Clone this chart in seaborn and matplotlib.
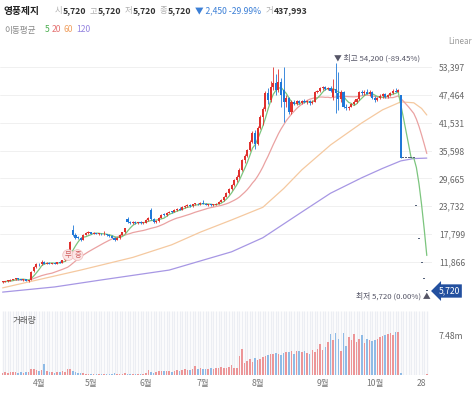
import numpy as np
import pandas as pd
import matplotlib
matplotlib.use("Agg")
import matplotlib.pyplot as plt
import seaborn as sns

# daily candles, prices in thousands of won (mid-March .. Oct 28), 164 trading days
open_ = [7.5, 7.6, 7.7, 7.8, 8.0, 8.2, 8.4, 8.1, 8.0, 8.1,
         7.8, 8.0, 9.8, 10.8, 11.4, 11.3, 11.9, 11.5, 11.7, 11.5,
         11.6, 11.5, 11.8, 11.7, 12.2, 12.7, 13.1, 18.7, 17.6, 17.0,
         16.9, 16.6, 17.6, 18.0, 18.2, 17.9, 18.0, 17.8, 17.9, 17.7,
         17.8, 17.5, 17.3, 17.0, 16.6, 16.9, 17.6, 18.2, 20.9, 20.3,
         20.2, 20.4, 20.1, 20.3, 20.1, 20.2, 20.8, 23.0, 21.0, 20.4,
         20.5, 21.3, 21.9, 21.8, 22.3, 22.6, 22.5, 22.9, 23.2, 23.0,
         23.6, 23.8, 23.9, 23.7, 24.2, 24.3, 24.1, 24.5, 24.3, 24.0,
         24.1, 23.9, 24.0, 24.3, 24.7, 25.0, 25.7, 26.5, 27.4, 28.3,
         29.3, 30.0, 31.5, 33.5, 34.5, 35.7, 37.5, 39.4, 37.0, 40.5,
         42.8, 44.5, 47.9, 46.5, 49.2, 50.0, 48.5, 50.2, 48.5, 46.0,
         46.8, 43.8, 46.0, 45.6, 46.1, 45.8, 46.2, 45.9, 46.1, 45.7,
         46.0, 48.1, 48.3, 48.9, 49.1, 48.7, 49.0, 47.0, 48.8, 47.8,
         46.6, 48.0, 44.9, 44.7, 45.0, 45.5, 46.0, 46.6, 48.0, 47.8,
         48.2, 47.7, 48.1, 46.9, 46.3, 46.8, 47.3, 47.6, 47.0, 47.5,
         47.9, 48.4, 48.2, 47.4, 34.03, 34.03, 34.03, 34.03, 34.03, 23.82,
         16.68, 11.67, 8.17, 5.72]
high = [7.7, 7.8, 7.9, 8.1, 8.3, 8.5, 8.5, 8.3, 8.2, 8.2,
        8.0, 9.9, 11.0, 11.6, 11.7, 12.2, 12.0, 11.8, 11.8, 11.7,
        11.8, 11.9, 12.0, 12.3, 12.8, 13.2, 16.3, 19.7, 18.0, 17.4,
        17.2, 17.8, 18.3, 18.4, 18.3, 18.2, 18.1, 18.0, 18.0, 18.4,
        17.9, 17.7, 17.5, 17.2, 17.1, 17.7, 18.3, 19.1, 21.5, 20.6,
        20.5, 20.5, 20.4, 20.5, 20.3, 20.9, 21.5, 23.4, 21.2, 20.7,
        21.4, 22.1, 22.2, 22.5, 22.7, 22.8, 23.1, 23.4, 23.5, 23.7,
        24.0, 24.1, 24.1, 24.3, 24.5, 24.5, 24.6, 25.0, 24.5, 24.3,
        24.2, 24.2, 24.4, 24.8, 25.2, 25.9, 26.7, 27.6, 28.5, 29.5,
        30.3, 31.8, 33.8, 34.8, 36.0, 37.9, 39.8, 39.9, 40.8, 43.2,
        45.0, 48.3, 49.0, 50.5, 53.4, 52.0, 53.0, 51.0, 53.4, 47.5,
        47.0, 46.5, 46.4, 46.3, 46.5, 46.4, 46.6, 46.4, 46.3, 46.3,
        48.4, 48.6, 49.2, 49.4, 49.3, 49.2, 49.3, 50.8, 54.2, 52.4,
        48.5, 48.3, 45.5, 45.2, 45.8, 46.3, 46.9, 48.3, 48.6, 48.5,
        48.7, 48.5, 48.4, 47.2, 47.0, 47.6, 47.9, 47.8, 47.7, 48.2,
        48.7, 49.0, 48.8, 47.4, 34.03, 34.03, 34.03, 34.03, 34.03, 23.82,
        16.68, 11.67, 8.17, 5.72]
low = [7.4, 7.5, 7.6, 7.7, 7.9, 8.0, 8.0, 7.9, 7.8, 7.7,
       7.6, 7.9, 9.6, 10.5, 11.0, 11.2, 11.4, 11.3, 11.4, 11.3,
       11.4, 11.4, 11.6, 11.6, 12.1, 12.5, 13.0, 17.3, 16.8, 16.7,
       16.3, 16.5, 17.5, 17.8, 17.8, 17.7, 17.7, 17.6, 17.6, 17.6,
       17.4, 17.2, 16.9, 16.3, 16.5, 16.8, 17.5, 18.1, 20.1, 20.0,
       20.0, 20.0, 19.9, 20.0, 19.9, 20.1, 20.6, 20.8, 20.2, 20.2,
       20.4, 21.2, 21.6, 21.7, 22.2, 22.3, 22.4, 22.8, 22.9, 22.9,
       23.4, 23.6, 23.6, 23.6, 24.0, 24.0, 24.0, 24.2, 23.9, 23.8,
       23.7, 23.7, 23.9, 24.2, 24.6, 24.9, 25.6, 26.3, 27.2, 28.1,
       29.0, 29.8, 31.3, 33.0, 34.2, 35.5, 37.3, 36.0, 36.8, 40.2,
       41.0, 44.0, 45.5, 46.0, 48.5, 47.5, 48.0, 45.0, 41.7, 45.0,
       43.5, 43.5, 45.3, 45.4, 45.5, 45.5, 45.7, 45.6, 45.4, 45.5,
       45.9, 47.8, 48.1, 48.6, 48.5, 48.5, 48.0, 46.5, 43.6, 44.3,
       46.0, 44.6, 44.3, 44.2, 44.8, 45.3, 45.8, 46.4, 47.4, 47.5,
       47.6, 47.2, 46.6, 46.0, 46.1, 46.6, 46.9, 46.8, 46.8, 47.3,
       47.7, 48.0, 48.0, 34.03, 34.03, 34.03, 34.03, 34.03, 34.03, 23.82,
       16.68, 11.67, 8.17, 5.72]
close = [7.6, 7.7, 7.8, 8.0, 8.2, 8.4, 8.1, 8.0, 8.1, 7.8,
         7.9, 9.7, 10.8, 11.4, 11.3, 11.9, 11.5, 11.7, 11.5, 11.6,
         11.5, 11.8, 11.7, 12.2, 12.7, 13.0, 16.1, 17.5, 17.0, 16.9,
         16.6, 17.6, 18.0, 18.2, 17.9, 18.0, 17.8, 17.9, 17.7, 17.8,
         17.5, 17.3, 17.0, 16.6, 16.9, 17.6, 18.2, 19.0, 20.3, 20.2,
         20.4, 20.1, 20.3, 20.1, 20.2, 20.8, 21.2, 21.0, 20.4, 20.5,
         21.3, 21.9, 21.8, 22.3, 22.6, 22.5, 22.9, 23.2, 23.0, 23.6,
         23.8, 23.9, 23.7, 24.2, 24.3, 24.1, 24.5, 24.3, 24.0, 24.1,
         23.9, 24.0, 24.3, 24.7, 25.0, 25.7, 26.5, 27.4, 28.3, 29.3,
         30.0, 31.5, 33.5, 34.5, 35.7, 37.5, 39.4, 37.0, 40.5, 42.8,
         44.5, 47.9, 46.5, 49.2, 50.0, 48.5, 50.2, 47.5, 46.0, 46.8,
         43.8, 46.0, 45.6, 46.1, 45.8, 46.2, 45.9, 46.1, 45.7, 46.0,
         48.1, 48.3, 48.9, 49.1, 48.7, 49.0, 48.3, 48.8, 47.8, 46.6,
         48.2, 44.9, 44.7, 45.0, 45.5, 46.0, 46.6, 48.0, 47.8, 48.2,
         47.7, 48.1, 46.9, 46.3, 46.8, 47.3, 47.6, 47.0, 47.5, 47.9,
         48.4, 48.2, 48.6, 34.03, 34.03, 34.03, 34.03, 34.03, 34.03, 23.82,
         16.68, 11.67, 8.17, 5.72]
# volume in millions of shares
volume = [0.4, 0.5, 0.4, 0.5, 0.6, 0.5, 0.4, 0.5, 0.4, 0.5,
          0.5, 1.2, 1.1, 1.0, 0.8, 1.0, 2.1, 0.7, 0.5, 0.6,
          0.4, 0.5, 0.6, 0.7, 0.6, 1.1, 1.2, 0.8, 0.5, 0.4,
          0.3, 0.4, 0.2, 0.15, 0.2, 0.1, 0.15, 0.1, 0.1, 0.2,
          0.15, 0.1, 0.2, 0.3, 0.2, 0.15, 0.2, 0.3, 0.2, 0.15,
          0.1, 0.15, 0.1, 0.1, 0.15, 0.3, 0.9, 0.5, 0.4, 0.6,
          0.7, 0.8, 0.7, 0.8, 0.7, 0.6, 0.8, 0.9, 0.8, 1.0,
          1.1, 1.0, 0.9, 1.2, 1.7, 1.1, 1.3, 1.2, 1.1, 1.2,
          1.3, 1.2, 1.4, 1.3, 1.5, 1.4, 1.3, 1.6, 1.9, 1.4,
          1.3, 3.6, 4.9, 2.3, 2.7, 3.0, 2.5, 3.3, 2.8, 3.0,
          3.4, 3.6, 3.8, 3.9, 4.0, 4.1, 4.0, 3.8, 4.2, 4.3,
          4.3, 4.5, 4.0, 4.6, 4.5, 4.3, 4.6, 4.2, 3.9, 4.8,
          4.4, 5.0, 5.9, 4.7, 5.2, 6.2, 7.8, 6.6, 7.9, 6.8,
          4.6, 7.9, 5.5, 7.2, 6.7, 7.8, 6.2, 6.8, 7.5, 6.0,
          6.8, 6.7, 6.4, 6.6, 6.8, 7.1, 7.4, 7.5, 7.8, 8.0,
          7.6, 8.1, 8.1, 0.3, 0.0, 0.0, 0.0, 0.0, 0.0, 0.05,
          0.05, 0.05, 0.05, 0.2]

# 60 / 120 day moving averages (day index, value)
ma60_day = [0, 15, 30, 50, 65, 76, 88, 100, 108, 115, 126, 138, 146, 153, 158, 161, 163]
ma60_val = [6.3, 8.2, 10.1, 12.8, 15.5, 18.2, 20.8, 23.5, 27.5, 31.5, 36.8, 41.5, 44.3, 46.0, 45.8, 44.6, 43.2]
ma120_day = [0, 20, 38, 64, 88, 100, 115, 126, 138, 146, 153, 158, 163]
ma120_val = [5.4, 6.5, 8.0, 10.1, 14.0, 17.0, 22.5, 26.5, 29.8, 31.8, 33.4, 33.9, 34.0]

month_day = [14, 34, 55, 77, 98, 123, 143, 161]
month_lbl = ["4월", "5월", "6월", "7월", "8월", "9월", "10월", "28"]
price_ticks = [53.397, 47.464, 41.531, 35.598, 29.665, 23.732, 17.799, 11.866]
price_lbls = ["53,397", "47,464", "41,531", "35,598", "29,665", "23,732", "17,799", "11,866"]

RED, BLUE, FLAT = "#e0312e", "#1f78d8", "#55627a"
VRED, VBLUE = "#ec9597", "#8fbbe6"
C5, C20, C60, C120 = "#7cc57e", "#eaa2a2", "#f5c9a0", "#a797e4"

sns.set_style("white")
plt.rcParams['font.family'] = ['Noto Sans CJK KR', 'DejaVu Sans']

df = pd.DataFrame({"day": np.arange(len(close)), "open": open_, "high": high,
                   "low": low, "close": close, "volume": volume})
df["ma5"] = df["close"].rolling(5, min_periods=1).mean()
df["ma20"] = df["close"].rolling(20, min_periods=1).mean()
col = np.where(df["close"] > df["open"], RED, np.where(df["close"] < df["open"], BLUE, FLAT))
vcol = np.where(df["close"] >= df["open"], VRED, VBLUE)

W, H = 474, 394
fig = plt.figure(figsize=(W / 100, H / 100), dpi=100)

def box(l, t, r, b):
    return [l / W, 1 - b / H, (r - l) / W, (b - t) / H]

def put(x, y, s, **kw):
    fig.text(x / W, 1 - y / H, s, va="center", **kw)

ax = fig.add_axes(box(0, 50, 432, 298))
axv = fig.add_axes(box(0, 311, 432, 375))

# price pane
for t in price_ticks:
    ax.axhline(t, color="#eeeeee", lw=0.6, zorder=0)
sns.lineplot(x=ma120_day, y=ma120_val, ax=ax, color=C120, lw=0.9, zorder=1)
sns.lineplot(x=ma60_day, y=ma60_val, ax=ax, color=C60, lw=0.9, zorder=1)
sns.lineplot(data=df, x="day", y="ma20", ax=ax, color=C20, lw=0.9, zorder=1)
sns.lineplot(data=df, x="day", y="ma5", ax=ax, color=C5, lw=0.9, zorder=1)
ax.vlines(df["day"], df["low"], df["high"], colors=col, lw=0.6, zorder=2)
body = (df["close"] - df["open"]).abs().clip(lower=0.2)
ax.bar(df["day"], body, bottom=np.minimum(df["open"], df["close"]), width=0.8,
       color=col, linewidth=0, zorder=3)

ax.set_xlim(-1, 165)
ax.set_ylim(4.14, 57.07)
ax.yaxis.tick_right()
ax.set_yticks(price_ticks, price_lbls)
ax.tick_params(axis="y", length=0, pad=5, labelsize=6.2, labelcolor="#666")
ax.set_xticks([])
ax.set_xlabel("")
ax.set_ylabel("")
for s in ax.spines.values():
    s.set_visible(False)

ax.text(127.3, 55.3, "▼ 최고 54,200 (-89.45%)", fontsize=5.6, color="#556", ha="left", va="center")
ax.text(164.3, 4.55, "최저 5,720 (0.00%) ▲", fontsize=5.6, color="#556", ha="right", va="center")
for d, ch in [(25.2, "무"), (28.8, "증")]:
    ax.text(d, 13.3, ch, fontsize=5.2, color="#d06060", ha="center", va="center", zorder=4,
            bbox=dict(boxstyle="circle,pad=0.2", fc="#fbe6e6", ec="#f0bcbc", lw=0.5))

# volume pane
axv.vlines(df["day"], 0, 12.08, color="#eceef3", lw=1.0, zorder=0)
axv.bar(df["day"], df["volume"], width=0.6, color=vcol, linewidth=0, zorder=2)
axv.set_xlim(-1, 165)
axv.set_ylim(0, 12.08)
axv.yaxis.tick_right()
axv.set_yticks([7.48], ["7.48m"])
axv.set_xticks(month_day, month_lbl)
axv.tick_params(axis="y", length=0, pad=5, labelsize=6.2, labelcolor="#666")
axv.tick_params(axis="x", length=0, pad=3, labelsize=6.2, labelcolor="#777")
for s in axv.spines.values():
    s.set_visible(False)
put(13, 320, "거래량", fontsize=6.2, color="#555")

# header
put(4, 11, "영풍제지", fontsize=7, weight="bold", color="#222")
for x, lbl in [(55, "시"), (90, "고"), (125, "저"), (160, "종")]:
    put(x, 11, lbl, fontsize=6.0, color="#b0b0b0")
    put(x + 8, 11, "5,720", fontsize=6.3, weight="bold", color="#333")
put(195, 11, "▼ 2,450 -29.99%", fontsize=6.2, color="#3b7fd6")
put(266, 11, "거", fontsize=6.0, color="#b0b0b0")
put(274, 11, "437,993", fontsize=6.3, weight="bold", color="#333")

put(4, 30, "이동평균", fontsize=6.2, color="#888")
for x, s, c in [(45, "5", "#4caf50"), (52, "20", "#e57373"), (64, "60", "#f0a060"), (76, "120", "#9585e0")]:
    put(x, 30, s, fontsize=6.2, color=c)
put(472, 42, "Linear", fontsize=5.8, color="#999", ha="right")
put(449, 291, "5,720", fontsize=6.2, color="white", ha="center",
    bbox=dict(boxstyle="larrow,pad=0.25", fc="#23509f", ec="none"))

fig.savefig("out.png", dpi=100)
